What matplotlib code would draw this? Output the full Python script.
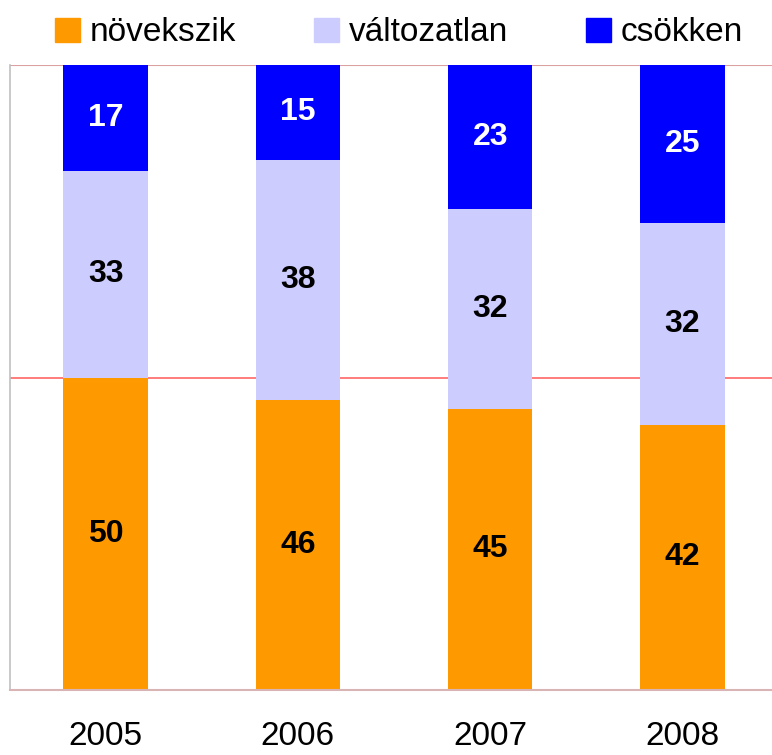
import matplotlib
matplotlib.use("Agg")
from matplotlib import pyplot as plt
from matplotlib.patches import Patch
import numpy as np

plt.rcParams['font.family'] = ['Liberation Sans', 'DejaVu Sans']

years = ['2005', '2006', '2007', '2008']
novekszik = [50, 46, 45, 42]
valtozatlan = [33, 38, 32, 32]
csokken = [17, 15, 23, 25]

series = [
    ('növekszik', novekszik, '#ff9900', 'black'),
    ('változatlan', valtozatlan, '#ccccff', 'black'),
    ('csökken', csokken, '#0000ff', 'white'),
]

# 100% stacked: normalize each year to its total
totals = np.array(novekszik) + np.array(valtozatlan) + np.array(csokken)

fig = plt.figure(figsize=(7.72, 7.55), dpi=100)
ax = fig.add_axes([9.5 / 772, 65 / 755, 769 / 772, 625 / 755])

x = np.arange(len(years))
bottom = np.zeros(len(years))
for name, vals, color, txt in series:
    share = np.array(vals) / totals * 100
    ax.bar(x, share, 0.44, bottom=bottom, color=color, zorder=2)
    for xi, b, h, v in zip(x, bottom, share, vals):
        ax.text(xi, b + h / 2, str(v), ha='center', va='center',
                fontsize=23, fontweight='bold', color=txt, zorder=3)
    bottom += share

ax.axhline(50, color='#ff6666', lw=1.2, zorder=1)
ax.axhline(100, color='#dda0a0', lw=1.5, zorder=1)

ax.set_xlim(-0.5, 3.5)
ax.set_ylim(0, 100)
ax.set_xticks(x)
ax.set_xticklabels(years, fontsize=24)
ax.tick_params(axis='x', length=0, pad=22)
ax.set_yticks([])
for s in ['top', 'right']:
    ax.spines[s].set_visible(False)
ax.spines['left'].set_color('#c0c0c0')
ax.spines['left'].set_linewidth(1.2)
ax.spines['bottom'].set_color('#d8b4b4')
ax.spines['bottom'].set_linewidth(1.5)

handles = [Patch(color=c, label=n) for n, _, c, _ in series]
fig.legend(handles=handles, loc='upper center', bbox_to_anchor=(0.517, 1.017),
           ncol=3, frameon=False, fontsize=24, handlelength=0.73,
           handleheight=0.73, handletextpad=0.3, columnspacing=2.35)

fig.savefig('out.png', dpi=100)
